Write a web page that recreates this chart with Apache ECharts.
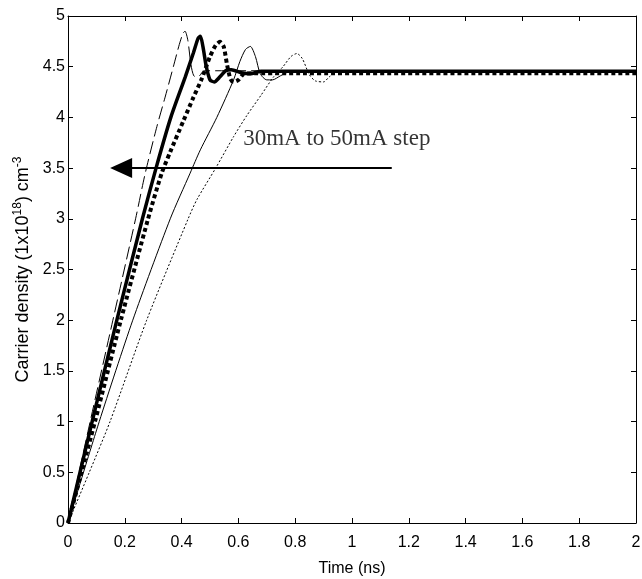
<!DOCTYPE html>
<html>
<head>
<meta charset="utf-8">
<script src="https://cdn.jsdelivr.net/npm/echarts@6/dist/echarts.min.js"></script>
<style>
  html, body { margin: 0; padding: 0; background: #fff; }
  #chart { width: 642px; height: 579px; }
</style>
</head>
<body>
<div id="chart"></div>
<script>
// tick labels
const xTicks = ['0', '0.2', '0.4', '0.6', '0.8', '1', '1.2', '1.4', '1.6', '1.8', '2'];
const yTicks = ['0', '0.5', '1', '1.5', '2', '2.5', '3', '3.5', '4', '4.5', '5'];

// carrier density curves, [time ns, density]
const curveDashed = [[0, 0], [0.078, 1], [0.158, 2], [0.238, 3], [0.272, 3.45], [0.313, 3.91], [0.342, 4.2],
  [0.371, 4.5], [0.392, 4.72], [0.405, 4.83], [0.412, 4.85], [0.422, 4.76], [0.433, 4.52], [0.443, 4.41],
  [0.458, 4.4], [0.48, 4.46], [2, 4.46]];
const curveThick = [[0, 0], [0.085, 1], [0.172, 2], [0.262, 3], [0.31, 3.5], [0.362, 4], [0.413, 4.4],
  [0.442, 4.64], [0.458, 4.78], [0.466, 4.8], [0.475, 4.7], [0.487, 4.5], [0.5, 4.37], [0.515, 4.35],
  [0.535, 4.4], [0.555, 4.46], [0.575, 4.47], [0.61, 4.44], [0.642, 4.43], [0.68, 4.455], [2, 4.455]];
const curveThickDot = [[0, 0], [0.095, 1], [0.186, 2], [0.282, 3], [0.33, 3.45], [0.36, 3.66], [0.407, 3.97],
  [0.442, 4.2], [0.471, 4.38], [0.5, 4.6], [0.52, 4.71], [0.535, 4.745], [0.548, 4.7], [0.56, 4.52], [0.572, 4.38],
  [0.583, 4.35], [0.6, 4.37], [0.62, 4.43], [0.65, 4.435], [2, 4.435]];
const curveThin = [[0, 0], [0.11, 1], [0.228, 2], [0.36, 3], [0.43, 3.45], [0.466, 3.68], [0.524, 4.0],
  [0.583, 4.37], [0.605, 4.55], [0.625, 4.67], [0.642, 4.7], [0.66, 4.6], [0.677, 4.43], [0.7, 4.37], [0.72, 4.37],
  [0.748, 4.41], [0.78, 4.45], [2, 4.45]];
const curveFineDot = [[0, 0], [0.075, 0.5], [0.148, 1], [0.277, 2], [0.423, 3], [0.454, 3.19], [0.52, 3.5],
  [0.583, 3.81], [0.63, 4.02], [0.68, 4.22], [0.724, 4.4], [0.757, 4.5], [0.785, 4.6], [0.806, 4.63], [0.825, 4.58],
  [0.85, 4.42], [0.871, 4.36], [0.9, 4.35], [0.92, 4.4], [0.95, 4.45], [2, 4.45]];

// annotation: arrow from right to left, and its caption
const arrowFrom = [1.14, 3.5];
const arrowTo = [0.187, 3.5];
const captionAt = [0.617, 3.79];
const captionText = '30mA to 50mA step';

const axisFont = { fontFamily: 'Liberation Sans', fontSize: 16, color: '#000' };

const baseAxis = {
  min: 0,
  splitLine: { show: false },
  axisLine: { show: true, onZero: false, lineStyle: { color: '#000', width: 1 } },
  axisTick: { show: true, inside: true, length: 5, lineStyle: { color: '#000' } },
};

const lineSeries = (data, width, type, z) => ({
  type: 'line',
  data,
  showSymbol: false,
  symbol: 'none',
  smooth: 0.25,
  z,
  lineStyle: { color: '#000', width, type, cap: 'butt' },
});

const chart = echarts.init(document.getElementById('chart'));
chart.setOption({
  animation: false,
  backgroundColor: '#fff',
  grid: { left: 68, right: 6, top: 16, bottom: 56, containLabel: false, outerBoundsMode: 'none' },
  xAxis: [
    {
      ...baseAxis,
      type: 'value',
      max: 2,
      interval: 0.2,
      position: 'bottom',
      axisLabel: { ...axisFont, margin: 12, formatter: (v) => xTicks[Math.round(v / 0.2)] },
      name: 'Time (ns)',
      nameLocation: 'middle',
      nameGap: 38,
      nameTextStyle: { ...axisFont, fontSize: 16 },
    },
    {
      ...baseAxis,
      type: 'value',
      max: 2,
      interval: 0.2,
      position: 'top',
      axisLabel: { show: false },
    },
  ],
  yAxis: [
    {
      ...baseAxis,
      type: 'value',
      max: 5,
      interval: 0.5,
      position: 'left',
      axisLabel: { ...axisFont, margin: 3, formatter: (v) => yTicks[Math.round(v / 0.5)] },
      name: 'Carrier density (1x10{sup|18}) cm{sup|-3}',
      nameLocation: 'middle',
      nameRotate: 90,
      nameGap: 33,
      nameTextStyle: {
        ...axisFont,
        fontSize: 18,
        rich: {
          sup: { fontFamily: 'Liberation Sans', fontSize: 12, color: '#000', padding: [0, 0, 10, 0] },
        },
      },
    },
    {
      ...baseAxis,
      type: 'value',
      max: 5,
      interval: 0.5,
      position: 'right',
      axisLabel: { show: false },
    },
  ],
  series: [
    lineSeries(curveFineDot, 1, [2, 2], 2),
    lineSeries(curveThin, 1, 'solid', 3),
    lineSeries(curveDashed, 1, [13, 5], 4),
    lineSeries(curveThickDot, 4, [4, 3], 5),
    lineSeries(curveThick, 3.5, 'solid', 6),
    {
      type: 'scatter',
      data: [captionAt],
      symbolSize: 0,
      silent: true,
      label: {
        show: true,
        position: 'right',
        distance: 0,
        formatter: captionText,
        fontFamily: 'Liberation Serif',
        fontSize: 23,
        color: '#000',
      },
      markLine: {
        silent: true,
        symbol: ['none', 'triangle'],
        symbolSize: [20, 22],
        label: { show: false },
        lineStyle: { color: '#000', width: 2, type: 'solid' },
        data: [[{ coord: arrowFrom }, { coord: arrowTo }]],
      },
    },
  ],
});
</script>
</body>
</html>
